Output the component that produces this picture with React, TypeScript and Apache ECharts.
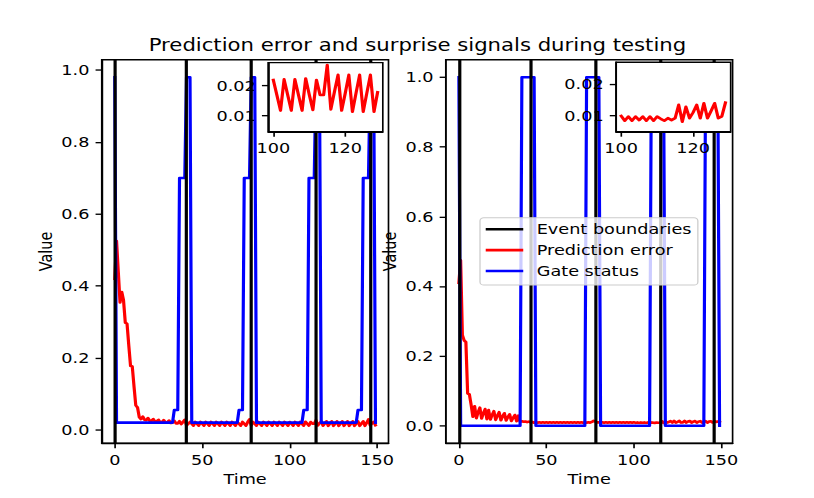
import React, { useEffect, useRef } from "react";
import * as echarts from "echarts";

// ---------------- data ----------------
const TITLE = "Prediction error and surprise signals during testing";
const LEGEND_NAMES = ["Event boundaries", "Prediction error", "Gate status"];
const X_NAME = "Time";
const Y_NAME = "Value";

const TIME = Array.from({ length: 150 }, (_, i) => i);
const BOUNDARIES = [0, 41, 78, 115, 146];

const X_TICKS = [0, 50, 100, 150];
const Y_TICKS = [0, 0.2, 0.4, 0.6, 0.8, 1.0];
const INSET_X_TICKS = [100, 120];
const INSET_Y_TICKS = [0.01, 0.02];
const INSET_FROM = 100;
const INSET_TO = 129;

const PE_LEFT = [
  0.42, 0.525, 0.44, 0.354, 0.383, 0.36, 0.298, 0.295, 0.235, 0.178,
  0.176, 0.12, 0.068, 0.062, 0.035, 0.03, 0.037, 0.028, 0.027, 0.033,
  0.025, 0.025, 0.03, 0.023, 0.024, 0.028, 0.021, 0.022, 0.027, 0.02,
  0.021, 0.026, 0.019, 0.02, 0.025, 0.018, 0.018, 0.024, 0.016, 0.022,
  0.028, 0.012, 0.017, 0.022, 0.0168, 0.0117, 0.022, 0.0168, 0.0117, 0.022,
  0.0168, 0.0117, 0.022, 0.0168, 0.0117, 0.022, 0.0168, 0.0117, 0.022, 0.0168,
  0.0117, 0.022, 0.0168, 0.0117, 0.022, 0.0168, 0.0117, 0.022, 0.0168, 0.0117,
  0.022, 0.0168, 0.0117, 0.022, 0.0168, 0.0117, 0.022, 0.029, 0.012, 0.022,
  0.0168, 0.0117, 0.022, 0.0168, 0.0117, 0.022, 0.0168, 0.0117, 0.022, 0.0168,
  0.0117, 0.022, 0.0168, 0.0117, 0.022, 0.0168, 0.0117, 0.022, 0.0168, 0.0117,
  0.0219, 0.0168, 0.0117, 0.0221, 0.0169, 0.0117, 0.0221, 0.0169, 0.0117, 0.0224,
  0.017, 0.0119, 0.0219, 0.0169, 0.0169, 0.0269, 0.0121, 0.018, 0.0236, 0.0117,
  0.0175, 0.0236, 0.0113, 0.0175, 0.0236, 0.0113, 0.0175, 0.0236, 0.0113, 0.0178,
  0.0236, 0.0113, 0.0175, 0.0236, 0.0113, 0.0175, 0.0236, 0.0113, 0.0175, 0.0236,
  0.0113, 0.0175, 0.0236, 0.0113, 0.02, 0.029, 0.012, 0.018, 0.022, 0.013,
];

const GATE_LEFT = [
  0.98, 0.02, 0.02, 0.02, 0.02, 0.02, 0.02, 0.02, 0.02, 0.02,
  0.02, 0.02, 0.02, 0.02, 0.02, 0.02, 0.02, 0.02, 0.02, 0.02,
  0.02, 0.02, 0.02, 0.02, 0.02, 0.02, 0.02, 0.02, 0.02, 0.02,
  0.02, 0.02, 0.02, 0.02, 0.055, 0.055, 0.055, 0.7, 0.7, 0.7,
  0.7, 0.98, 0.98, 0.98, 0.02, 0.02, 0.02, 0.02, 0.02, 0.02,
  0.02, 0.02, 0.02, 0.02, 0.02, 0.02, 0.02, 0.02, 0.02, 0.02,
  0.02, 0.02, 0.02, 0.02, 0.02, 0.02, 0.02, 0.02, 0.02, 0.02,
  0.02, 0.055, 0.055, 0.055, 0.7, 0.7, 0.7, 0.7, 0.98, 0.98,
  0.98, 0.02, 0.02, 0.02, 0.02, 0.02, 0.02, 0.02, 0.02, 0.02,
  0.02, 0.02, 0.02, 0.02, 0.02, 0.02, 0.02, 0.02, 0.02, 0.02,
  0.02, 0.02, 0.02, 0.02, 0.02, 0.02, 0.02, 0.02, 0.055, 0.055,
  0.055, 0.7, 0.7, 0.7, 0.7, 0.98, 0.98, 0.98, 0.02, 0.02,
  0.02, 0.02, 0.02, 0.02, 0.02, 0.02, 0.02, 0.02, 0.02, 0.02,
  0.02, 0.02, 0.02, 0.02, 0.02, 0.02, 0.02, 0.02, 0.02, 0.055,
  0.055, 0.055, 0.7, 0.7, 0.7, 0.7, 0.98, 0.98, 0.98, 0.02,
];

const PE_RIGHT = [
  0.41, 0.475, 0.26, 0.245, 0.24, 0.093, 0.09, 0.06, 0.026, 0.056,
  0.022, 0.039, 0.052, 0.021, 0.036, 0.048, 0.019, 0.045, 0.018, 0.031,
  0.042, 0.017, 0.029, 0.039, 0.016, 0.027, 0.036, 0.015, 0.025, 0.033,
  0.014, 0.023, 0.031, 0.013, 0.029, 0.012, 0.013, 0.0115, 0.0125, 0.0105,
  0.012, 0.0099, 0.0108, 0.0088, 0.0102, 0.0086, 0.0099, 0.0086, 0.0099, 0.0086,
  0.0099, 0.0086, 0.0099, 0.0086, 0.0099, 0.0086, 0.0099, 0.0086, 0.0099, 0.0086,
  0.0099, 0.0086, 0.0099, 0.0086, 0.0099, 0.0086, 0.0099, 0.0086, 0.0099, 0.0086,
  0.0099, 0.0086, 0.0099, 0.0086, 0.0099, 0.0088, 0.011, 0.014, 0.012, 0.0095,
  0.0099, 0.0086, 0.0099, 0.0086, 0.0099, 0.0086, 0.0099, 0.0086, 0.0099, 0.0086,
  0.0099, 0.0086, 0.0099, 0.0086, 0.0099, 0.0086, 0.0099, 0.0086, 0.0099, 0.0086,
  0.0099, 0.0084, 0.0097, 0.0084, 0.0097, 0.0086, 0.0097, 0.0084, 0.0097, 0.0084,
  0.0097, 0.009, 0.0084, 0.0092, 0.0086, 0.0092, 0.0134, 0.0081, 0.0128, 0.0092,
  0.011, 0.0134, 0.0092, 0.0139, 0.0092, 0.0115, 0.0139, 0.0092, 0.0098, 0.0141,
  0.0092, 0.0125, 0.0138, 0.0092, 0.012, 0.0136, 0.0092, 0.0118, 0.0135, 0.009,
  0.012, 0.0133, 0.009, 0.0125, 0.0132, 0.0095, 0.013, 0.011, 0.0125, 0.0105,
];

const GATE_RIGHT = [
  1, 0, 0, 0, 0, 0, 0, 0, 0, 0,
  0, 0, 0, 0, 0, 0, 0, 0, 0, 0,
  0, 0, 0, 0, 0, 0, 0, 0, 0, 0,
  0, 0, 0, 0, 0, 0, 1, 1, 1, 1,
  1, 1, 1, 1, 0, 0, 0, 0, 0, 0,
  0, 0, 0, 0, 0, 0, 0, 0, 0, 0,
  0, 0, 0, 0, 0, 0, 0, 0, 0, 0,
  0, 0, 0, 1, 1, 1, 1, 1, 1, 1,
  1, 0, 0, 0, 0, 0, 0, 0, 0, 0,
  0, 0, 0, 0, 0, 0, 0, 0, 0, 0,
  0, 0, 0, 0, 0, 0, 0, 0, 0, 0,
  1, 1, 1, 1, 1, 1, 1, 1, 0, 0,
  0, 0, 0, 0, 0, 0, 0, 0, 0, 0,
  0, 0, 0, 0, 0, 0, 0, 0, 0, 0,
  0, 1, 1, 1, 1, 1, 1, 1, 1, 0,
];

// ---------------- styling ----------------
const FONT = "DejaVu Sans";
const FS = 13.89; // 10pt
const LW = 2.5;
const SPINE = 1.3;
const BASE_W = 640;
const BASE_H = 480;
const OUT_W = 814;
const OUT_H = 498;

const pairs = (vals: number[], from = 0, to = vals.length - 1) =>
  TIME.slice(from, to + 1).map((t) => [t, vals[t]]);

function makeAxis(
  kind: "x" | "y",
  gridIndex: number,
  min: number,
  max: number,
  ticks: number[],
  fmt: (v: number) => string,
  z: number,
  name?: string
) {
  const ax: any = {
    type: "value",
    gridIndex,
    min,
    max,
    z,
    axisLine: { show: true, onZero: false, lineStyle: { color: "#000", width: SPINE } },
    axisTick: {
      show: true,
      inside: false,
      length: 4.86,
      customValues: ticks,
      lineStyle: { color: "#000", width: SPINE },
    },
    axisLabel: {
      show: true,
      customValues: ticks,
      margin: kind === "x" ? 9 : 9.7,
      color: "#000",
      fontFamily: FONT,
      fontSize: FS,
      lineHeight: FS,
      formatter: (v: number) => fmt(v),
      hideOverlap: false,
    },
    splitLine: { show: false },
  };
  if (name) {
    ax.name = name;
    ax.nameLocation = "middle";
    ax.nameTextStyle = { fontFamily: FONT, fontSize: FS, color: "#000", lineHeight: FS };
    if (kind === "x") {
      ax.nameGap = 26.6;
    } else {
      ax.nameGap = 37.3;
      ax.nameRotate = 90;
    }
  }
  return ax;
}

function buildOption() {
  const grids = [
    { left: 80, top: 57.6, width: 225.45, height: 369.6, z: 0 },
    { left: 350.55, top: 57.6, width: 225.45, height: 369.6, z: 0 },
    { left: 210.8, top: 60.4, width: 90.18, height: 66.5, z: 10 },
    { left: 484.3, top: 60.0, width: 90.18, height: 66.9, z: 10 },
  ].map((g) => ({
    ...g,
    show: true,
    containLabel: false,
    backgroundColor: "#fff",
    borderColor: "#000",
    borderWidth: SPINE,
  }));

  const fx = (v: number) => String(v);
  const fy1 = (v: number) => v.toFixed(1);
  const fy2 = (v: number) => v.toFixed(2);

  const xAxis = [
    makeAxis("x", 0, -7.45, 156.45, X_TICKS, fx, 1, X_NAME),
    makeAxis("x", 1, -7.45, 156.45, X_TICKS, fx, 1, X_NAME),
    makeAxis("x", 2, 98.55, 130.45, INSET_X_TICKS, fx, 11),
    makeAxis("x", 3, 98.55, 130.45, INSET_X_TICKS, fx, 11),
  ];
  const yAxis = [
    makeAxis("y", 0, -0.0371, 1.0284, Y_TICKS, fy1, 1, Y_NAME),
    makeAxis("y", 1, -0.05, 1.05, Y_TICKS, fy1, 1, Y_NAME),
    makeAxis("y", 2, 0.00467, 0.02767, INSET_Y_TICKS, fy2, 11),
    makeAxis("y", 3, 0.00495, 0.02685, INSET_Y_TICKS, fy2, 11),
  ];

  const lineSeries = (
    name: string,
    idx: number,
    data: number[][],
    color: string,
    z: number
  ) => ({
    name,
    type: "line",
    xAxisIndex: idx,
    yAxisIndex: idx,
    data,
    symbol: "none",
    showSymbol: false,
    smooth: false,
    silent: true,
    z,
    itemStyle: { color },
    lineStyle: { color, width: LW, join: "round", cap: "square" },
    emphasis: { disabled: true },
  });

  const boundarySeries = (idx: number) => ({
    name: LEGEND_NAMES[0],
    type: "line",
    xAxisIndex: idx,
    yAxisIndex: idx,
    data: [],
    symbol: "none",
    silent: true,
    z: 2,
    itemStyle: { color: "#000" },
    lineStyle: { color: "#000", width: LW },
    markLine: {
      silent: true,
      symbol: ["none", "none"],
      label: { show: false },
      emphasis: { disabled: true },
      lineStyle: { color: "#000", width: LW, type: "solid", cap: "butt" },
      data: BOUNDARIES.map((b) => ({ xAxis: b })),
    },
  });

  const series: any[] = [
    boundarySeries(0),
    lineSeries(LEGEND_NAMES[1], 0, pairs(PE_LEFT), "#ff0000", 3),
    lineSeries(LEGEND_NAMES[2], 0, pairs(GATE_LEFT), "#0000ff", 4),
    boundarySeries(1),
    lineSeries(LEGEND_NAMES[1], 1, pairs(PE_RIGHT), "#ff0000", 3),
    lineSeries(LEGEND_NAMES[2], 1, pairs(GATE_RIGHT), "#0000ff", 4),
    lineSeries("Prediction error (inset, left)", 2, pairs(PE_LEFT, INSET_FROM, INSET_TO), "#ff0000", 12),
    lineSeries("Prediction error (inset, right)", 3, pairs(PE_RIGHT, INSET_FROM, INSET_TO), "#ff0000", 12),
  ];

  return {
    animation: false,
    backgroundColor: "#fff",
    textStyle: { fontFamily: FONT },
    grid: grids,
    xAxis,
    yAxis,
    series,
    legend: {
      data: LEGEND_NAMES,
      orient: "vertical",
      left: 377.4,
      top: 209.8,
      padding: [4.2, 5, 6.5, 4.5],
      itemGap: 6.1,
      itemWidth: 29.5,
      itemHeight: LW,
      icon: "rect",
      selectedMode: false,
      z: 20,
      backgroundColor: "rgba(255,255,255,0.8)",
      borderColor: "#cccccc",
      borderWidth: 1,
      borderRadius: 3,
      textStyle: {
        fontFamily: FONT,
        fontSize: FS,
        color: "#000",
        lineHeight: 14,
        padding: [0, 0, 0, 5.6],
      },
    },
    graphic: [
      {
        type: "text",
        x: 328.2,
        y: 43.1,
        z: 30,
        silent: true,
        style: {
          text: TITLE,
          fontFamily: FONT,
          fontSize: 16.67,
          fill: "#000",
          align: "center",
          verticalAlign: "middle",
        },
      },
    ],
  };
}

export default function App() {
  const ref = useRef<HTMLDivElement>(null);
  useEffect(() => {
    if (!ref.current) return;
    const chart = echarts.init(ref.current, null, {
      renderer: "svg",
      width: BASE_W,
      height: BASE_H,
    });
    chart.setOption(buildOption() as any);
    return () => chart.dispose();
  }, []);
  return (
    <div
      style={{
        position: "fixed",
        left: 0,
        top: 0,
        width: OUT_W,
        height: OUT_H,
        overflow: "hidden",
        background: "#fff",
      }}
    >
      <div
        ref={ref}
        style={{
          width: BASE_W,
          height: BASE_H,
          transform: `scale(${OUT_W / BASE_W}, ${OUT_H / BASE_H})`,
          transformOrigin: "0 0",
        }}
      />
    </div>
  );
}
